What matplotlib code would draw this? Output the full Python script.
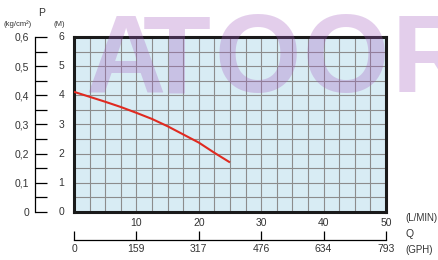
import matplotlib
matplotlib.use("Agg")
import matplotlib.pyplot as plt
import numpy as np

plt.rcParams['font.family'] = ['Liberation Sans', 'DejaVu Sans']

# Datos de la curva (caudal en L/min, altura en m)
q_lmin = [0, 2.5, 5, 7.5, 10, 12.5, 15, 17.5, 20, 22.5, 25]
head_m = [4.12, 3.95, 3.78, 3.6, 3.4, 3.19, 2.94, 2.66, 2.38, 2.03, 1.70]

# Escalas
lmin_ticks = [10, 20, 30, 40, 50]
gph_labels = ['0', '159', '317', '476', '634', '793']
m_labels = ['0', '1', '2', '3', '4', '5', '6']
kg_labels = ['0', '0,1', '0,2', '0,3', '0,4', '0,5', '0,6']

W, H = 438, 260
fig = plt.figure(figsize=(W / 100, H / 100), dpi=100)
txt = '#333333'

# Zona principal
ax = fig.add_axes([74 / W, (H - 212) / H, 312 / W, 175 / H])
ax.set_facecolor('#d8ecf4')
ax.set_xlim(0, 50)
ax.set_ylim(0, 6)
ax.set_xticks(np.arange(0, 50.1, 2.5))
ax.set_xticklabels([])
ax.set_yticks(np.arange(0, 6.01, 0.5))
ax.set_yticklabels([])
ax.tick_params(length=0)
ax.grid(True, color='#8c8c8c', linewidth=0.8)
for s in ax.spines.values():
    s.set_linewidth(2.2)
    s.set_color('#1a1a1a')
for x in lmin_ticks:
    ax.text(x, -0.2, str(x), ha='center', va='top', fontsize=7.5, color=txt)
ax.plot(q_lmin, head_m, color='#e02a20', linewidth=1.5, zorder=3,
        solid_capstyle='butt')

# Escala vertical izquierda (kg/cm2 y m)
axp = fig.add_axes([35 / W, (H - 212) / H, 0.0001, 175 / H])
axp.set_ylim(0, 6)
axp.set_xlim(0, 1)
for k in ['top', 'right', 'bottom']:
    axp.spines[k].set_visible(False)
axp.spines['left'].set_linewidth(0.9)
axp.set_xticks([])
axp.set_yticks(range(7))
axp.set_yticklabels(kg_labels)
axp.set_yticks(np.arange(0.5, 6, 1), minor=True)
axp.tick_params(axis='y', which='both', direction='in', length=8.5, width=0.9,
                labelsize=7.5, labelcolor=txt, pad=4)
axp.patch.set_visible(False)
for i, lab in enumerate(m_labels):
    axp.annotate(lab, xy=(0, i), xycoords=('axes fraction', 'data'),
                 xytext=(17, 0), textcoords='offset points',
                 ha='left', va='center', fontsize=7.5, color=txt)

# Escala horizontal inferior (GPH)
axq = fig.add_axes([74 / W, (H - 240) / H, 312 / W, 0.0001])
axq.set_xlim(0, 50)
for k in ['top', 'right', 'left']:
    axq.spines[k].set_visible(False)
axq.spines['bottom'].set_linewidth(0.9)
axq.set_yticks([])
axq.set_xticks(range(0, 51, 10))
axq.set_xticklabels(gph_labels)
axq.tick_params(axis='x', direction='in', length=6.5, width=0.9,
                labelsize=7.5, labelcolor=txt, pad=3)
axq.patch.set_visible(False)

# Textos
fig.text(42 / W, 1 - 13 / H, 'P', ha='center', va='center', fontsize=7.5, color=txt)
fig.text(18 / W, 1 - 24 / H, '(kg/cm²)', ha='center', va='center', fontsize=5.5, color=txt)
fig.text(59 / W, 1 - 24 / H, '(M)', ha='center', va='center', fontsize=5.5, color=txt)
fig.text(405 / W, 1 - 218 / H, '(L/MIN)', ha='left', va='center', fontsize=7, color=txt)
fig.text(405 / W, 1 - 234 / H, 'Q', ha='left', va='center', fontsize=7.5, color=txt)
fig.text(405 / W, 1 - 250 / H, '(GPH)', ha='left', va='center', fontsize=7, color=txt)

# Marca de agua (letra a letra, la R queda cortada en el borde)
for letra, xc in zip('ATOOR', [125, 177, 258, 346, 432]):
    fig.text(xc / W, 1 - 92 / H, letra, ha='center', va='baseline', fontsize=80,
             fontweight='bold', color=(0.647, 0.373, 0.753), alpha=0.3, zorder=10)

fig.savefig('out.png', dpi=100)
